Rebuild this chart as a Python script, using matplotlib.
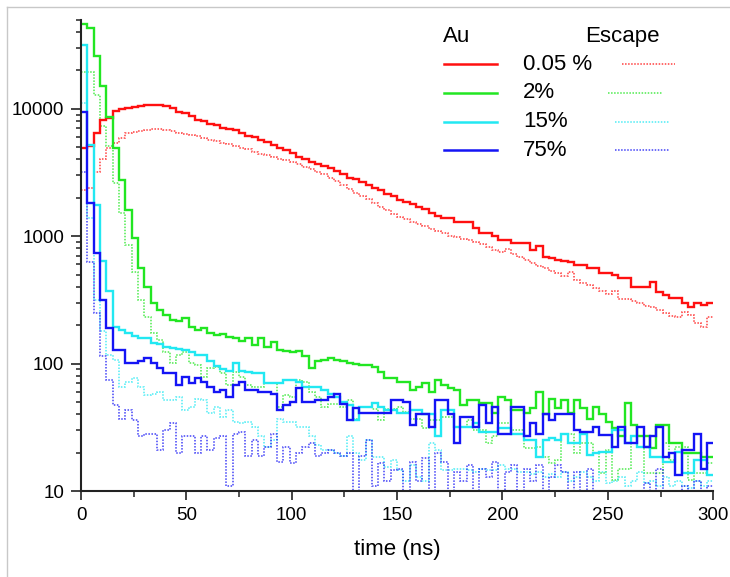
import numpy as np
import matplotlib
matplotlib.use("Agg")
import matplotlib.pyplot as plt
from matplotlib.ticker import LogLocator, FixedLocator, FuncFormatter, NullFormatter
from matplotlib.lines import Line2D

plt.rcParams["font.family"] = ["Liberation Sans", "DejaVu Sans"]

# 3 ns bins from 0 to 300 ns, counts
bin_width = 3
time_max = 300

au_005 = [4900, 5100, 6500, 8200, 8500, 9600, 9900, 10200, 10400, 10500,
          10600, 10700, 10600, 10500, 10200, 9400, 9300, 8700, 8200, 8000,
          7600, 7500, 7100, 6900, 6800, 6400, 6100, 6000, 5700, 5500,
          5200, 4950, 4750, 4500, 4200, 4050, 3850, 3700, 3550, 3400,
          3250, 3100, 2880, 2800, 2650, 2500, 2400, 2300, 2150, 2050,
          1930, 1850, 1780, 1700, 1620, 1520, 1450, 1400, 1400, 1300,
          1280, 1280, 1160, 1060, 1060, 1000, 940, 935, 890, 890,
          890, 780, 830, 690, 670, 650, 640, 630, 590, 590,
          560, 560, 510, 510, 500, 470, 470, 400, 400, 400,
          440, 365, 345, 330, 330, 300, 280, 300, 290, 300]

esc_005 = [2300, 2400, 3200, 4000, 4900, 5400, 5900, 6400, 6600, 6700,
           6800, 6900, 6900, 6800, 6700, 6500, 6300, 6200, 6100, 5900,
           5700, 5550, 5400, 5250, 5100, 4950, 4800, 4600, 4450, 4300,
           4200, 4050, 3950, 3800, 3650, 3500, 3350, 3200, 3050, 2850,
           2700, 2500, 2330, 2200, 2080, 1950, 1820, 1700, 1600, 1500,
           1420, 1370, 1300, 1250, 1200, 1130, 1090, 1060, 1000, 980,
           950, 930, 900, 860, 820, 780, 750, 790, 720, 680,
           650, 620, 580, 560, 530, 510, 490, 520, 450, 430,
           410, 390, 370, 350, 370, 320, 320, 310, 300, 285,
           280, 265, 250, 235, 230, 255, 240, 210, 195, 230]

au_2 = [46500, 43000, 26100, 15000, 8570, 4920, 2770, 1610, 960, 565,
        400, 298, 263, 240, 220, 214, 228, 192, 184, 190,
        175, 168, 172, 163, 158, 150, 158, 140, 158, 136,
        148, 128, 126, 124, 126, 114, 92, 104, 107, 110,
        107, 104, 101, 99, 98, 97, 94, 86, 77, 77,
        72, 72, 62, 66, 70, 60, 74, 68, 64, 62,
        47, 52, 52, 49, 49, 41, 55, 52, 43, 43,
        41, 45, 60, 40, 53, 45, 52, 41, 52, 45,
        37, 46, 40, 35, 31, 27, 49, 33, 27, 27,
        21.6, 33, 33, 23.7, 23.7, 19.8, 19.8, 19.8, 18.6, 18.6]

esc_2 = [19400, 19400, 12700, 7370, 5070, 2610, 1510, 850, 520, 316,
         234, 173, 153, 124, 101, 117, 124, 101, 98, 79,
         92, 94, 84, 68, 86, 79, 68, 66, 66, 70,
         70, 46, 57, 55, 74, 72, 60, 55, 46, 48,
         48, 46, 52, 37, 46, 46, 44, 36, 44, 44,
         46, 42, 37, 37, 31, 36, 36, 38, 38, 32,
         32, 36, 30, 30, 23.7, 27, 34, 34, 30, 30,
         21.6, 21.6, 22, 18.6, 16.5, 17.5, 28, 28, 20, 23.7,
         23.7, 20, 13.8, 21, 12.2, 15, 15, 27, 27, 13.8,
         13.8, 13.8, 23.7, 17.5, 22.3, 22.3, 12.2, 13.8, 13.8, 16.5]

au_15 = [31500, 5220, 1770, 640, 368, 195, 184, 173, 165, 160,
         158, 146, 142, 136, 132, 130, 128, 124, 117, 117,
         104, 96, 90, 88, 101, 88, 86, 84, 84, 70,
         70, 70, 74, 74, 72, 66, 66, 66, 62, 58,
         55, 50, 47, 36, 46, 46, 49, 46, 43, 43,
         41, 41, 43, 43, 40, 40, 27, 43, 43, 32,
         32, 32, 34, 29, 29, 29, 31, 31, 28, 28,
         25, 25, 18.6, 25, 26, 25, 28, 24, 24, 28,
         19.2, 20, 20.4, 20.4, 30, 30, 23.7, 27, 22.3, 22.3,
         18.6, 18.6, 17, 17, 20.4, 13.8, 13.8, 17.5, 17.5, 13.4]

esc_15 = [11000, 1400, 316, 180, 117, 107, 66, 72, 77, 66,
          57, 58, 60, 52, 52, 55, 43, 46, 53, 52,
          41, 46, 38, 43, 35, 34, 35, 32, 27, 22,
          25, 37, 35, 35, 32, 32, 27, 23, 21, 21,
          20, 19, 27, 20, 17.5, 25, 18.6, 18.6, 15.5, 17.5,
          14.6, 12, 16, 13, 12, 23.7, 21, 14.6, 14.6, 15,
          15, 14.6, 14, 15, 14.6, 14.6, 16, 15, 15, 14,
          14, 13.5, 14, 13, 13.5, 13, 14, 12, 13, 14,
          13, 12, 14, 11.5, 12, 13, 11, 12, 14, 11.5,
          12, 11, 13, 11, 12, 11, 10.5, 12, 11, 12]

au_75 = [9380, 1820, 736, 316, 190, 128, 128, 101, 101, 104,
         110, 101, 92, 84, 84, 68, 79, 70, 77, 72,
         66, 60, 62, 55, 68, 72, 62, 62, 60, 60,
         58, 43, 47, 50, 64, 50, 50, 52, 52, 55,
         58, 48, 36, 45, 41, 41, 41, 41, 41, 52,
         52, 50, 33, 40, 40, 32, 52, 52, 40, 24,
         38, 38, 32, 47, 34, 46, 28, 28, 46, 46,
         27, 34, 28, 40, 36, 40, 40, 40, 30, 29,
         29, 32, 27.5, 27.5, 22.3, 32, 23.7, 23.7, 32, 22.3,
         27, 32, 18.6, 20, 13.4, 21, 21, 28, 15, 23.7]

esc_75 = [3200, 630, 250, 114, 74, 47, 37, 43, 36, 27,
          28, 28, 21, 30, 34, 20, 27, 27, 20, 27,
          21, 26, 27, 11, 28, 29, 19, 25, 19, 22,
          28, 17, 22, 16.5, 20, 22, 24, 19, 20, 21,
          20, 19, 20, 6, 19, 25, 11, 16.5, 12, 14.6,
          15, 9, 17, 12, 18, 8, 20, 17, 9, 14,
          12, 16, 8, 15, 13, 17, 10, 14, 16, 7,
          15, 12, 16, 8, 13, 16, 14, 10, 14, 8,
          15, 9, 6, 8, 5, 7, 6, 9, 5, 11.5,
          7, 15, 6, 8, 5, 11, 6, 12, 7, 11]

labels = ["0.05 %", "2%", "15%", "75%"]
colors = ["#ff1010", "#22e622", "#22e8f2", "#1414f5"]
au_series = [au_005, au_2, au_15, au_75]
esc_series = [esc_005, esc_2, esc_15, esc_75]

edges = np.arange(0, time_max + bin_width, bin_width)

fig = plt.figure(figsize=(7.3, 5.77), dpi=100)
ax = fig.add_axes([0.111, 0.149, 0.866, 0.817])

for esc, c in zip(esc_series, colors):
    ax.stairs(esc, edges, baseline=None, color=c, lw=1.1, ls=(0, (1, 1)), alpha=0.8)
for au, c in zip(au_series, colors):
    ax.stairs(au, edges, baseline=None, color=c, lw=1.7)

ax.set_yscale("log")
ax.set_xlim(0, 300)
ax.set_ylim(10, 50000)

ax.xaxis.set_major_locator(FixedLocator([0, 50, 100, 150, 200, 250, 300]))
ax.xaxis.set_minor_locator(FixedLocator([25, 75, 125, 175, 225, 275]))
ax.yaxis.set_major_locator(FixedLocator([10, 100, 1000, 10000]))
ax.yaxis.set_major_formatter(FuncFormatter(lambda v, p: "%d" % v))
ax.yaxis.set_minor_locator(LogLocator(base=10, subs=np.arange(2, 10), numticks=20))
ax.yaxis.set_minor_formatter(NullFormatter())

for s in ["top", "right"]:
    ax.spines[s].set_visible(False)
for s in ["left", "bottom"]:
    ax.spines[s].set_linewidth(1.5)
    ax.spines[s].set_color("#222222")

ax.tick_params(axis="both", which="major", labelsize=13.5, color="#222222",
               width=1.2, direction="out")
ax.tick_params(axis="y", which="major", length=7, pad=5)
ax.tick_params(axis="y", which="minor", length=3.6, width=1.1, color="#222222")
ax.tick_params(axis="x", which="major", length=6.5, pad=5)
ax.tick_params(axis="x", which="minor", length=4, width=1.1, color="#222222")

ax.set_xlabel("time (ns)", fontsize=16, labelpad=11)

# legend drawn by hand: solid "Au" column, dotted "Escape" column
ax.text(0.573, 0.9635, "Au", transform=ax.transAxes, fontsize=16, va="center")
ax.text(0.797, 0.9635, "Escape", transform=ax.transAxes, fontsize=16, va="center")
rows = [0.905, 0.845, 0.783, 0.723]
dot_x = [(0.8555, 0.940), (0.834, 0.919), (0.845, 0.930), (0.845, 0.930)]
for y, lab, c, dx in zip(rows, labels, colors, dot_x):
    ax.add_line(Line2D([0.5744, 0.6582], [y, y], transform=ax.transAxes,
                       color=c, lw=1.8, clip_on=False))
    ax.text(0.699, y, lab, transform=ax.transAxes, fontsize=16, va="center")
    ax.add_line(Line2D(list(dx), [y, y], transform=ax.transAxes,
                       color=c, lw=1.1, ls=(0, (1, 1)), alpha=0.8, clip_on=False))

# thin grey frame at top and left of the picture
fig.add_artist(Line2D([7 / 730, 7 / 730], [0, 1 - 7 / 577], transform=fig.transFigure,
                      color="#c8c8c8", lw=1))
fig.add_artist(Line2D([7 / 730, 1], [1 - 7 / 577, 1 - 7 / 577], transform=fig.transFigure,
                      color="#c8c8c8", lw=1))

fig.savefig("out.png", dpi=100)
